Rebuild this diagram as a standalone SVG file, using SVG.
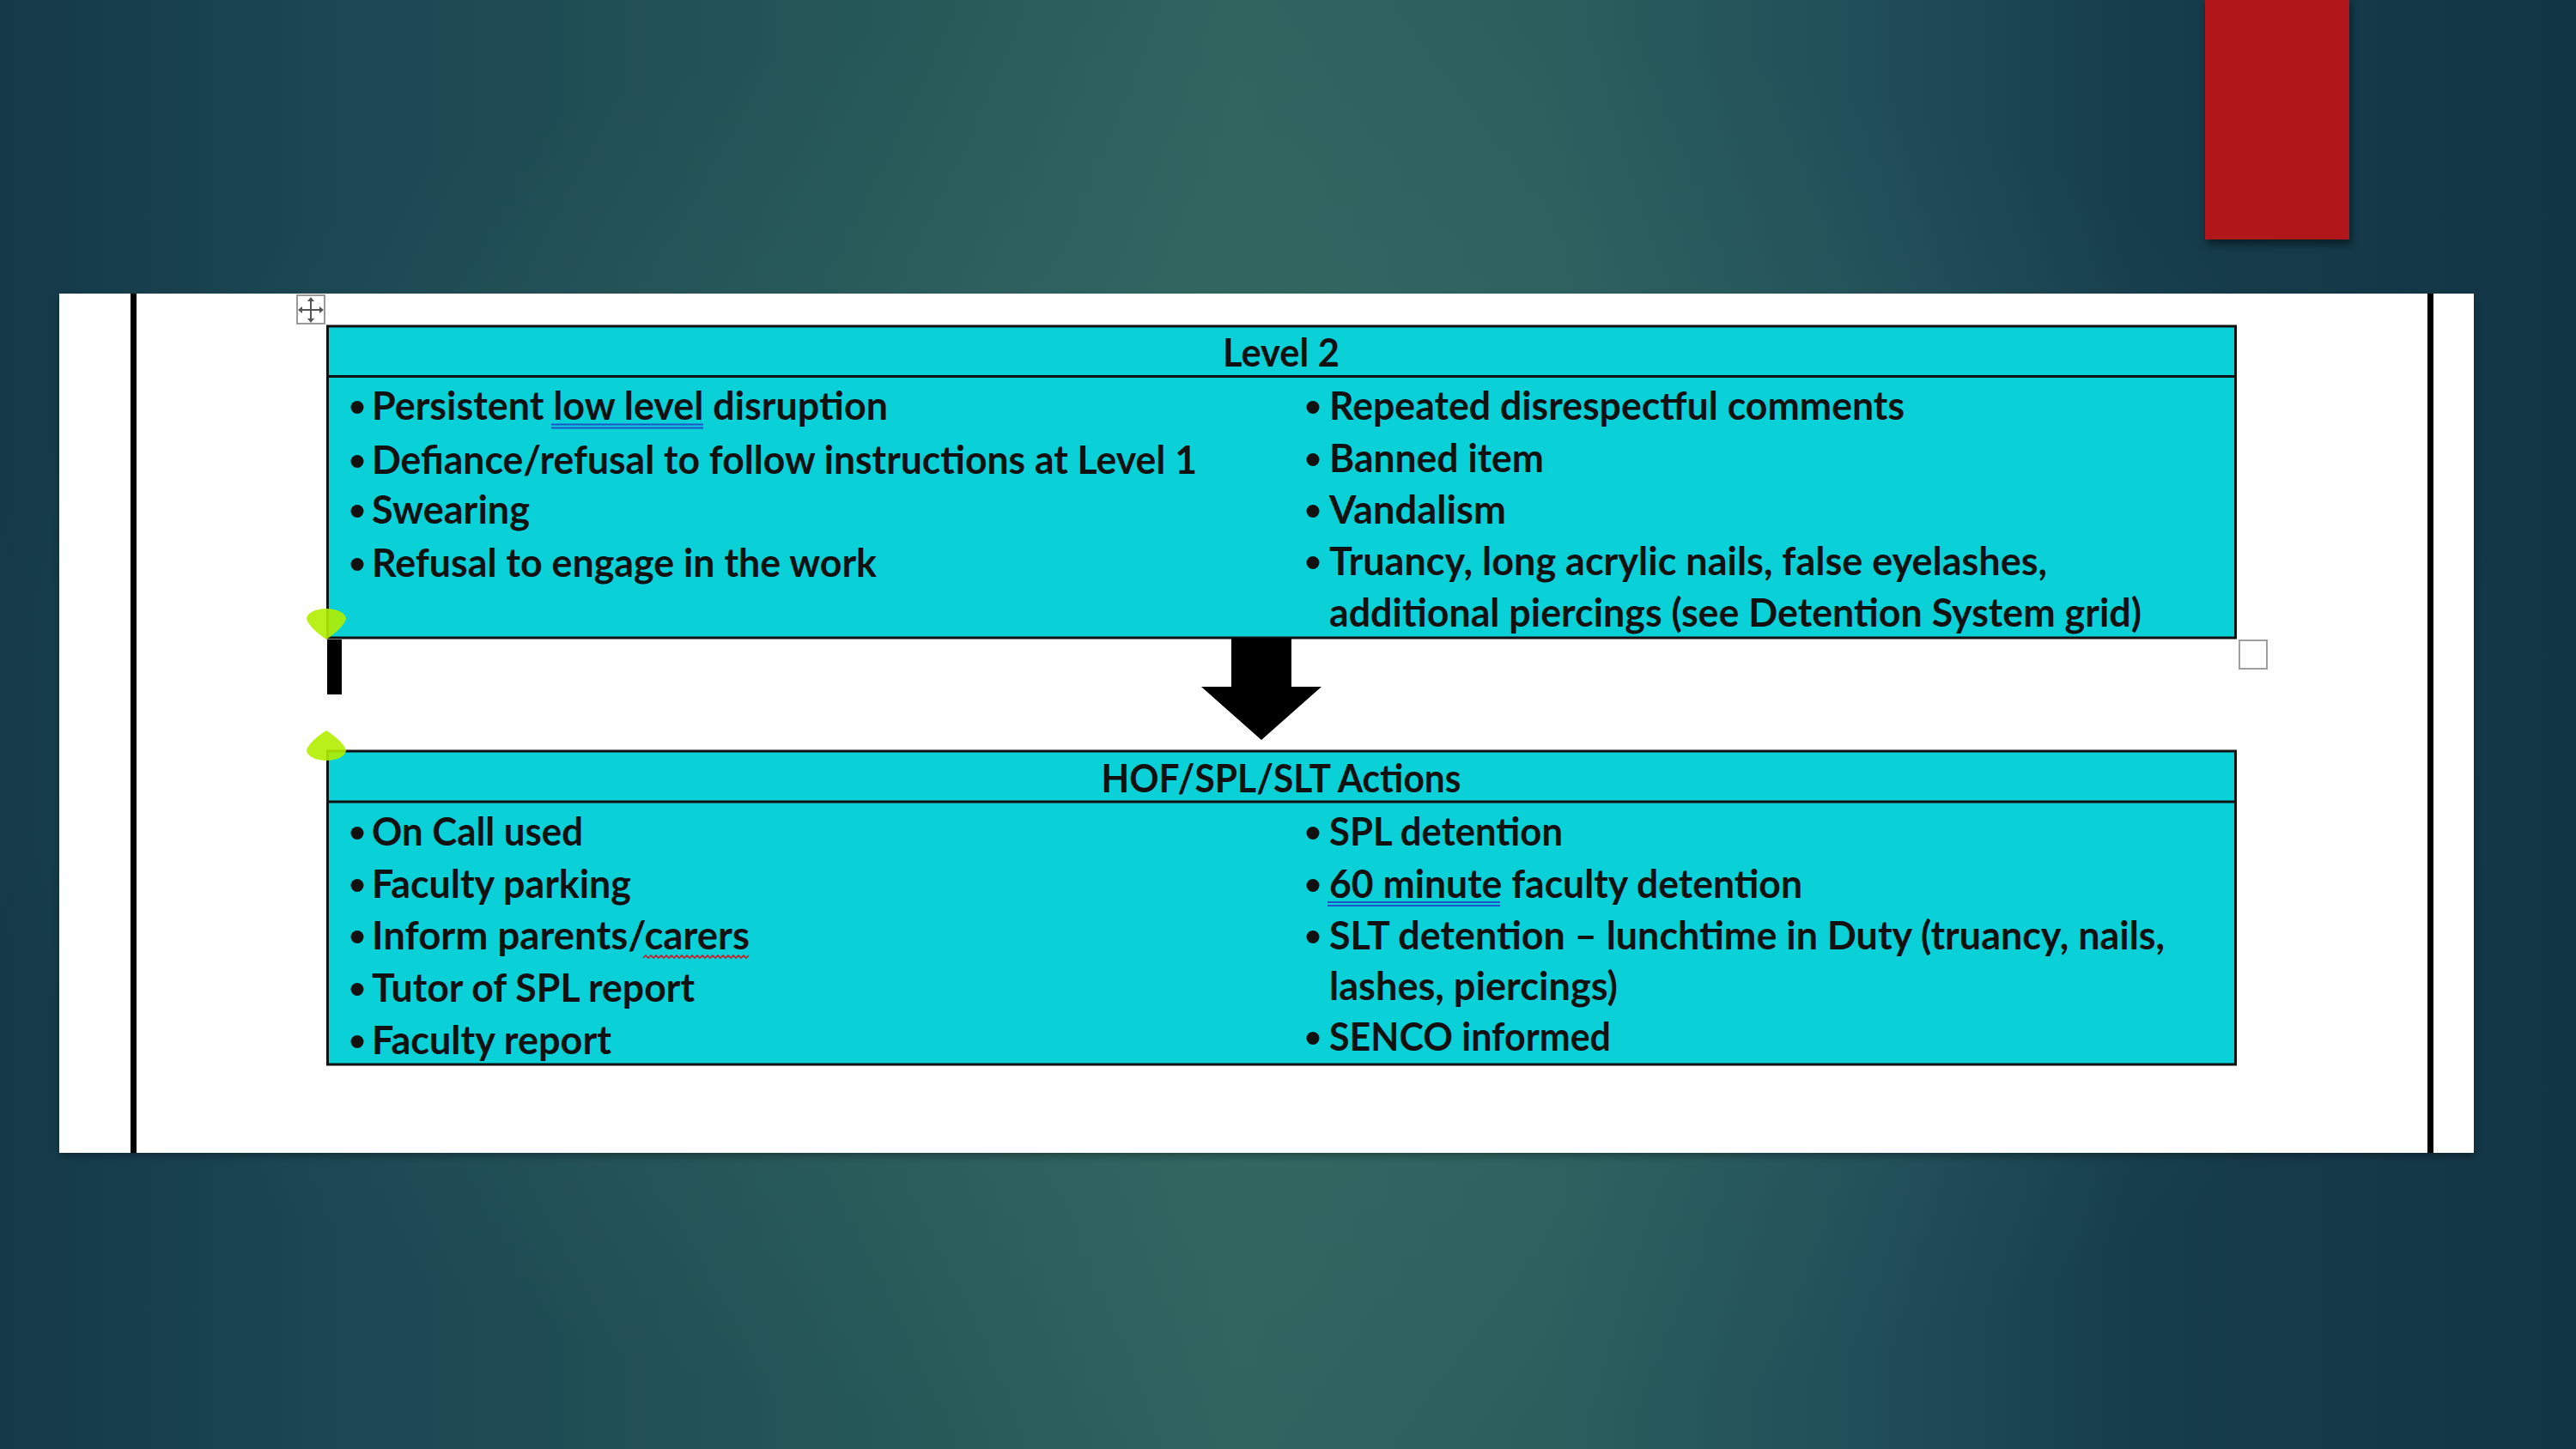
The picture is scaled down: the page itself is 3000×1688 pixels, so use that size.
<svg xmlns="http://www.w3.org/2000/svg" width="3000" height="1688" viewBox="0 0 3000 1688">
  <defs>
    <linearGradient id="bgH" x1="0" y1="0" x2="1" y2="0">
      <stop offset="0" stop-color="#143949"/>
      <stop offset="0.1" stop-color="#1a4452"/>
      <stop offset="0.3" stop-color="#245457"/>
      <stop offset="0.48" stop-color="#2f645f"/>
      <stop offset="0.6" stop-color="#2b5f5e"/>
      <stop offset="0.72" stop-color="#214f59"/>
      <stop offset="0.83" stop-color="#163d4c"/>
      <stop offset="1" stop-color="#123545"/>
    </linearGradient>
    <radialGradient id="bgR" cx="0.48" cy="0.5" r="0.5">
      <stop offset="0" stop-color="#3f756c" stop-opacity="0.5"/>
      <stop offset="0.6" stop-color="#3f756c" stop-opacity="0.18"/>
      <stop offset="1" stop-color="#3f756c" stop-opacity="0"/>
    </radialGradient>
    <filter id="blur" x="-20%" y="-20%" width="140%" height="140%">
      <feGaussianBlur stdDeviation="4"/>
    </filter>
    <style>
      .box { fill: #0ad0d8; stroke: #111; stroke-width: 3; }
      .sep { stroke: #111; stroke-width: 3; }
      .txt { font-family: Lato, "Open Sans", "Liberation Sans", sans-serif; font-weight: 700; font-size: 45px; fill: #111; transform: translateY(2px); }
      .hdr { text-anchor: middle; }
      .bul { fill: #111; }
      .ul { stroke: #1f55c8; stroke-width: 2; fill: none; }
      .wavy { stroke: #c8202a; stroke-width: 1.6; fill: none; }
      .pin { fill: #b2ee00; fill-opacity: 0.9; }
    </style>
  </defs>

  <!-- background -->
  <rect x="0" y="0" width="3000" height="1688" fill="url(#bgH)"/>
  <rect x="0" y="0" width="3000" height="1688" fill="url(#bgR)"/>

  <!-- red bar -->
  <rect x="2570" y="2" width="168" height="283" fill="#000" opacity="0.45" filter="url(#blur)"/>
  <rect x="2568" y="0" width="168" height="279" fill="#b0161a"/>

  <!-- page -->
  <rect x="69" y="346" width="2812" height="1001" fill="#000" opacity="0.3" filter="url(#blur)"/>
  <rect x="69" y="342" width="2812" height="1001" fill="#ffffff"/>
  <rect x="152" y="342" width="7" height="1001" fill="#000"/>
  <rect x="2827" y="342" width="7" height="1001" fill="#000"/>

  <!-- move handle -->
  <g id="move-handle">
    <rect x="346" y="344" width="32" height="33" fill="#fff" stroke="#9a9a9a" stroke-width="2"/>
    <path d="M362,348 L362,374 M349,361 L375,361" stroke="#555" stroke-width="2" fill="none"/>
    <path d="M362,346 L358,351 L366,351 Z M362,376 L358,371 L366,371 Z M347,361 L352,357 L352,365 Z M377,361 L372,357 L372,365 Z" fill="#555"/>
  </g>

  <!-- Level 2 node -->
  <g id="level2">
    <rect class="box" x="381.5" y="380" width="2222" height="363"/>
    <line class="sep" x1="381.5" y1="438.5" x2="2603.5" y2="438.5"/>
    <text class="txt hdr" x="1492" y="425" textLength="136" lengthAdjust="spacingAndGlyphs">Level 2</text>

    <circle class="bul" cx="416" cy="474.5" r="7.5"/>
    <text class="txt" x="433" y="487" textLength="601" lengthAdjust="spacingAndGlyphs">Persistent low level disruption</text>
    <circle class="bul" cx="416" cy="537.5" r="7.5"/>
    <text class="txt" x="433" y="550" textLength="961" lengthAdjust="spacingAndGlyphs">Defiance/refusal to follow instructions at Level 1</text>
    <circle class="bul" cx="416" cy="595.5" r="7.5"/>
    <text class="txt" x="433" y="608" textLength="184" lengthAdjust="spacingAndGlyphs">Swearing</text>
    <circle class="bul" cx="416" cy="657.5" r="7.5"/>
    <text class="txt" x="433" y="670" textLength="588" lengthAdjust="spacingAndGlyphs">Refusal to engage in the work</text>

    <circle class="bul" cx="1529" cy="474.5" r="7.5"/>
    <text class="txt" x="1548" y="487" textLength="670" lengthAdjust="spacingAndGlyphs">Repeated disrespectful comments</text>
    <circle class="bul" cx="1529" cy="535.5" r="7.5"/>
    <text class="txt" x="1548" y="548" textLength="250" lengthAdjust="spacingAndGlyphs">Banned item</text>
    <circle class="bul" cx="1529" cy="595.5" r="7.5"/>
    <text class="txt" x="1548" y="608" textLength="206" lengthAdjust="spacingAndGlyphs">Vandalism</text>
    <circle class="bul" cx="1529" cy="655.5" r="7.5"/>
    <text class="txt" x="1548" y="668" textLength="836" lengthAdjust="spacingAndGlyphs">Truancy, long acrylic nails, false eyelashes,</text>
    <text class="txt" x="1548" y="728" textLength="946" lengthAdjust="spacingAndGlyphs">additional piercings (see Detention System grid)</text>

    <path class="ul" d="M642,494.5 L819,494.5 M642,498.5 L819,498.5"/>
  </g>

  <!-- HOF/SPL/SLT Actions node -->
  <g id="actions">
    <rect class="box" x="381.5" y="875" width="2222" height="365"/>
    <line class="sep" x1="381.5" y1="934" x2="2603.5" y2="934"/>
    <text class="txt hdr" x="1492" y="921" textLength="419" lengthAdjust="spacingAndGlyphs">HOF/SPL/SLT Actions</text>

    <circle class="bul" cx="416" cy="970.5" r="7.5"/>
    <text class="txt" x="433" y="983" textLength="246" lengthAdjust="spacingAndGlyphs">On Call used</text>
    <circle class="bul" cx="416" cy="1031.5" r="7.5"/>
    <text class="txt" x="433" y="1044" textLength="302" lengthAdjust="spacingAndGlyphs">Faculty parking</text>
    <circle class="bul" cx="416" cy="1091.5" r="7.5"/>
    <text class="txt" x="433" y="1104" textLength="440" lengthAdjust="spacingAndGlyphs">Inform parents/carers</text>
    <circle class="bul" cx="416" cy="1152.5" r="7.5"/>
    <text class="txt" x="433" y="1165" textLength="376" lengthAdjust="spacingAndGlyphs">Tutor of SPL report</text>
    <circle class="bul" cx="416" cy="1213.5" r="7.5"/>
    <text class="txt" x="433" y="1226" textLength="279" lengthAdjust="spacingAndGlyphs">Faculty report</text>

    <circle class="bul" cx="1529" cy="970.5" r="7.5"/>
    <text class="txt" x="1548" y="983" textLength="272" lengthAdjust="spacingAndGlyphs">SPL detention</text>
    <circle class="bul" cx="1529" cy="1031.5" r="7.5"/>
    <text class="txt" x="1548" y="1044" textLength="551" lengthAdjust="spacingAndGlyphs">60 minute faculty detention</text>
    <circle class="bul" cx="1529" cy="1091.5" r="7.5"/>
    <text class="txt" x="1548" y="1104" textLength="973" lengthAdjust="spacingAndGlyphs">SLT detention – lunchtime in Duty (truancy, nails,</text>
    <text class="txt" x="1548" y="1163" textLength="336" lengthAdjust="spacingAndGlyphs">lashes, piercings)</text>
    <circle class="bul" cx="1529" cy="1209.5" r="7.5"/>
    <text class="txt" x="1548" y="1222" textLength="328" lengthAdjust="spacingAndGlyphs">SENCO informed</text>

    <path class="ul" d="M1546,1051 L1747,1051 M1546,1055 L1747,1055"/>
    <path class="wavy" d="M749,1116 l3,-3 l3,3 l3,-3 l3,3 l3,-3 l3,3 l3,-3 l3,3 l3,-3 l3,3 l3,-3 l3,3 l3,-3 l3,3 l3,-3 l3,3 l3,-3 l3,3 l3,-3 l3,3 l3,-3 l3,3 l3,-3 l3,3 l3,-3 l3,3 l3,-3 l3,3 l3,-3 l3,3 l3,-3 l3,3 l3,-3 l3,3 l3,-3 l3,3 l3,-3 l3,3 l3,-3 l3,3 l3,-3"/>
  </g>

  <!-- connectors -->
  <g id="connectors">
    <path d="M1434,743 L1504,743 L1504,800 L1539,800 L1469,862 L1399,800 L1434,800 Z" fill="#000"/>
  </g>

  <!-- table editing marks -->
  <g id="marks">
    <rect x="381" y="745" width="17" height="64" fill="#000"/>
    <rect x="2608" y="746" width="32" height="33" fill="#fff" stroke="#a0a0a0" stroke-width="2"/>
    <path class="pin" d="M357,721 A23,12 0 0 1 403,721 Q400,731 380,745 Q360,731 357,721 Z"/>
    <path class="pin" d="M357,874 A23,12 0 0 0 403,874 Q400,864 380,851 Q360,864 357,874 Z"/>
  </g>
</svg>
